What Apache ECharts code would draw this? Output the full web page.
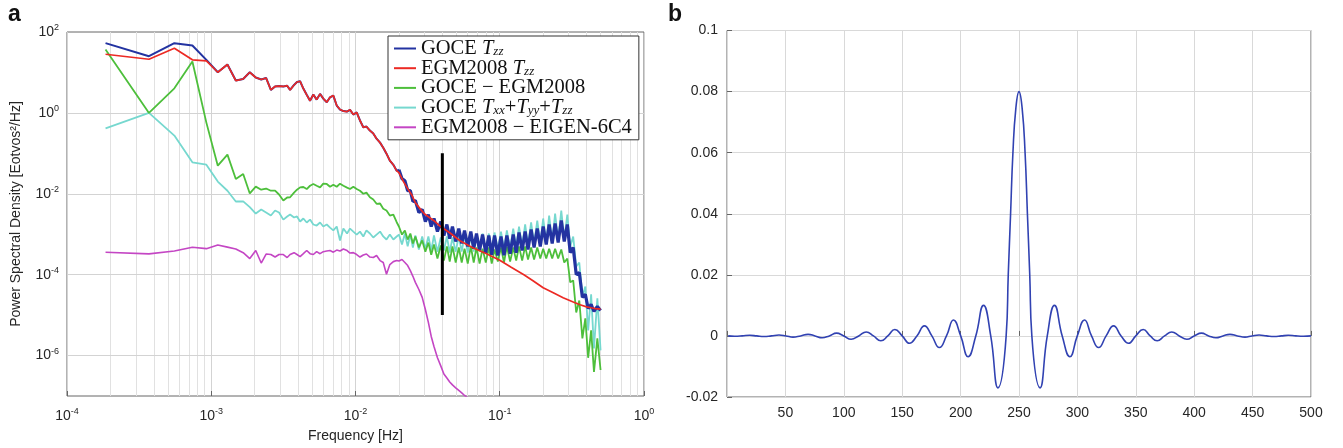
<!DOCTYPE html>
<html>
<head>
<meta charset="utf-8">
<script src="https://cdn.jsdelivr.net/npm/echarts@6.0.0/dist/echarts.min.js"></script>
<style>
html,body{margin:0;padding:0;background:#fff;}
#chart{width:1343px;height:448px;}
</style>
</head>
<body>
<div id="chart"></div>
<script>
// ---------------- Panel a data (frequency in Hz, PSD in Eotvos^2/Hz) ----------------
const fLow = [1.85e-4, 3.7e-4, 5.55e-4, 7.4e-4, 9.25e-4, 1.11e-3, 1.295e-3, 1.48e-3, 1.665e-3, 1.85e-3, 2.035e-3, 2.22e-3];
const fMid = [2.40e-3, 2.59e-3, 2.77e-3, 2.95e-3, 3.16e-3, 3.36e-3, 3.52e-3, 3.75e-3, 3.93e-3, 4.13e-3,
              4.35e-3, 4.59e-3, 4.84e-3, 5.10e-3, 5.38e-3, 5.68e-3, 5.98e-3, 6.32e-3, 6.66e-3, 7.02e-3,
              7.41e-3, 7.81e-3, 8.24e-3, 8.74e-3, 9.16e-3, 9.66e-3, 1.019e-2, 1.074e-2, 1.133e-2, 1.191e-2,
              1.259e-2, 1.328e-2, 1.40e-2, 1.48e-2, 1.557e-2, 1.64e-2, 1.73e-2, 1.83e-2, 1.93e-2];
const fHigh = [0.020, 0.021, 0.022, 0.023, 0.024, 0.025, 0.026, 0.0275, 0.029, 0.0305,
               0.032, 0.0335, 0.035, 0.037, 0.039, 0.041, 0.043, 0.045, 0.047, 0.0495,
               0.052, 0.0545, 0.057, 0.060, 0.063, 0.066, 0.069, 0.0725, 0.076, 0.080,
               0.084, 0.088, 0.092, 0.097, 0.102, 0.107, 0.112, 0.118, 0.124, 0.130,
               0.136, 0.143, 0.150, 0.157, 0.165, 0.173, 0.182, 0.191, 0.200, 0.210,
               0.220, 0.231, 0.242, 0.254, 0.267, 0.280, 0.294, 0.308, 0.323, 0.339,
               0.356, 0.374, 0.392, 0.410, 0.430, 0.450, 0.475, 0.500];
const fRedHigh = [0.0200, 0.0215, 0.0230, 0.0245, 0.0260, 0.0280, 0.0300, 0.0320, 0.0350, 0.0375,
                  0.0400, 0.0450, 0.0530, 0.0650, 0.0810, 0.100, 0.120, 0.147, 0.170, 0.200,
                  0.235, 0.275, 0.320, 0.360, 0.400, 0.430, 0.460, 0.500];

// GOCE Tzz (blue)
const blueLow = [53, 25.2, 53, 46.3, 20.5];
const blueHigh = [3.95e-2, 2.37e-2, 2.1e-2, 1.19e-2, 1.19e-2, 6.45e-3, 6.8e-3, 3.45e-3, 4.1e-3, 2.06e-3,
                  3.07e-3, 1.55e-3, 2.45e-3, 1.16e-3, 2.06e-3, 9.3e-4, 1.74e-3, 7.8e-4, 1.55e-3, 6.6e-4,
                  1.38e-3, 5.9e-4, 1.23e-3, 5.0e-4, 1.16e-3, 4.4e-4, 1.04e-3, 3.95e-4, 9.8e-4, 3.5e-4,
                  9.3e-4, 3.1e-4, 9.3e-4, 3.0e-4, 8.8e-4, 3.0e-4, 9.3e-4, 3.3e-4, 9.8e-4, 3.5e-4,
                  1.1e-3, 3.95e-4, 1.16e-3, 4.2e-4, 1.3e-3, 4.7e-4, 1.38e-3, 5.0e-4, 1.55e-3, 5.6e-4,
                  1.74e-3, 5.9e-4, 1.84e-3, 6.2e-4, 2.18e-3, 6.6e-4, 1.74e-3, 3.5e-4, 4.7e-4, 1.0e-4,
                  1.13e-4, 2.75e-5, 3.25e-5, 1.46e-5, 1.84e-5, 1.23e-5, 1.64e-5, 1.3e-5];
// EGM2008 Tzz (red)
const redLow = [28.2, 21.2, 39.8, 20.5, 19.4, 10.1, 15.7, 6.3, 6.9, 10.1, 7.5, 6.7];
const redMid = [7.3, 3.7, 4.5, 4.6, 4.5, 4.7, 3.7, 4.9, 5.8, 6.05,
                4.0, 2.8, 2.0, 2.84, 2.13, 2.95, 2.26, 1.83, 2.43, 2.68,
                1.52, 1.21, 1.11, 1.08, 1.19, 0.91, 1.03, 0.65, 0.44, 0.46,
                0.365, 0.31, 0.23, 0.184, 0.138, 0.098, 0.066, 0.052, 0.037];
const redHigh = [0.0333, 0.020, 0.0134, 9.5e-3, 6.0e-3, 4.3e-3, 3.2e-3, 2.7e-3, 2.16e-3, 1.72e-3,
                 1.45e-3, 1.09e-3, 6.9e-4, 4.63e-4, 3.29e-4, 2.27e-4, 1.52e-4, 1.0e-4, 7.1e-5, 4.74e-5,
                 3.56e-5, 2.68e-5, 2.13e-5, 1.80e-5, 1.60e-5, 1.52e-5, 1.45e-5, 1.41e-5];
// GOCE - EGM2008 (green)
const greenLow = [36.9, 1.0, 4.06, 18.6, 0.575, 0.0496, 0.093, 0.0232, 0.0307, 0.0102, 0.015, 0.0126];
const greenMid = [0.0135, 0.0119, 0.0119, 9.6e-3, 6.8e-3, 8.1e-3, 8.2e-3, 0.0107, 0.0126, 0.0144,
                  0.0147, 0.0131, 0.0158, 0.0175, 0.0158, 0.0144, 0.0178, 0.0175, 0.0149, 0.0168,
                  0.0149, 0.0178, 0.0158, 0.0142, 0.0131, 0.0149, 0.0131, 0.0119, 0.0100, 0.0107,
                  8.2e-3, 7.2e-3, 5.65e-3, 5.75e-3, 4.25e-3, 3.86e-3, 2.9e-3, 3.07e-3, 1.98e-3];
const greenHigh = [1.55e-3, 9.8e-4, 1.23e-3, 7.4e-4, 1.04e-3, 5.9e-4, 8.8e-4, 4.7e-4, 7.0e-4, 3.7e-4,
                   6.2e-4, 3.1e-4, 5.6e-4, 2.5e-4, 5.25e-4, 2.23e-4, 5.0e-4, 2.1e-4, 5.0e-4, 2.0e-4,
                   4.7e-4, 2.0e-4, 4.4e-4, 1.88e-4, 5.0e-4, 2.0e-4, 4.7e-4, 1.88e-4, 4.4e-4, 2.0e-4,
                   4.7e-4, 1.88e-4, 4.2e-4, 2.1e-4, 4.7e-4, 2.0e-4, 5.0e-4, 2.1e-4, 4.7e-4, 2.23e-4,
                   5.0e-4, 2.23e-4, 5.0e-4, 2.37e-4, 4.7e-4, 2.37e-4, 4.7e-4, 2.5e-4, 4.4e-4, 2.5e-4,
                   4.4e-4, 2.5e-4, 4.4e-4, 2.5e-4, 4.2e-4, 2.0e-4, 2.5e-4, 6.45e-5, 7.2e-5, 1.16e-5,
                   2.3e-5, 2.65e-6, 8.3e-6, 8.8e-7, 4.2e-6, 3.95e-7, 2.65e-6, 4.4e-7];
// GOCE Txx+Tyy+Tzz (cyan)
const cyanLow = [0.416, 1.0, 0.275, 0.0599, 0.0525, 0.020, 0.0119, 6.45e-3, 6.5e-3, 4.66e-3, 3.25e-3, 4.1e-3];
const cyanMid = [3.45e-3, 2.9e-3, 3.86e-3, 3.45e-3, 2.3e-3, 2.75e-3, 3.07e-3, 2.59e-3, 2.75e-3, 2.06e-3,
                 2.45e-3, 1.95e-3, 2.3e-3, 1.74e-3, 1.64e-3, 1.95e-3, 1.55e-3, 1.74e-3, 1.46e-3, 1.24e-3,
                 1.55e-3, 7.0e-4, 1.38e-3, 1.04e-3, 1.38e-3, 1.16e-3, 9.8e-4, 1.16e-3, 8.8e-4, 1.24e-3,
                 1.04e-3, 8.3e-4, 9.8e-4, 1.16e-3, 8.8e-4, 7.4e-4, 9.8e-4, 7.4e-4, 8.8e-4];
const cyanHigh = [9.8e-4, 5.6e-4, 1.04e-3, 5.0e-4, 9.8e-4, 4.7e-4, 9.3e-4, 4.2e-4, 8.8e-4, 4.4e-4,
                  8.8e-4, 3.95e-4, 9.3e-4, 3.7e-4, 8.3e-4, 3.95e-4, 8.8e-4, 3.5e-4, 8.3e-4, 3.7e-4,
                  8.8e-4, 3.7e-4, 9.3e-4, 3.5e-4, 9.3e-4, 3.7e-4, 9.8e-4, 3.7e-4, 1.04e-3, 3.95e-4,
                  1.04e-3, 3.95e-4, 1.1e-3, 4.2e-4, 1.16e-3, 4.2e-4, 1.24e-3, 4.4e-4, 1.38e-3, 4.7e-4,
                  1.55e-3, 5.0e-4, 1.74e-3, 5.25e-4, 1.95e-3, 5.6e-4, 2.18e-3, 5.9e-4, 2.45e-3, 6.2e-4,
                  2.9e-3, 6.6e-4, 3.25e-3, 7.0e-4, 3.86e-3, 7.8e-4, 3.07e-3, 5.0e-4, 8.8e-4, 1.59e-4,
                  2.0e-4, 2.9e-5, 5.1e-5, 4.2e-6, 3.25e-5, 1.5e-6, 2.6e-5, 1.34e-6];
// EGM2008 - EIGEN-6C4 (magenta)
const magLow = [3.58e-4, 3.27e-4, 3.84e-4, 4.77e-4, 4.4e-4, 5.4e-4, 4.8e-4, 4.3e-4, 3.5e-4, 2.5e-4, 3.95e-4, 1.94e-4];
const magMid = [3.24e-4, 3.15e-4, 2.73e-4, 3.15e-4, 3.15e-4, 2.65e-4, 3.15e-4, 3.5e-4, 3.15e-4, 2.8e-4,
                3.3e-4, 3.95e-4, 3.3e-4, 3.15e-4, 3.7e-4, 3.3e-4, 3.7e-4, 3.84e-4, 3.95e-4, 3.6e-4,
                4.06e-4, 3.84e-4, 4.3e-4, 3.95e-4, 3.43e-4, 3.5e-4, 3.15e-4, 2.73e-4, 3.06e-4, 3.24e-4,
                2.73e-4, 2.65e-4, 2.97e-4, 2.23e-4, 2.0e-4, 1.02e-4, 1.78e-4, 2.1e-4, 2.23e-4];
const magHigh = [2.17e-4, 2.37e-4, 2.0e-4, 1.68e-4, 1.26e-4, 9.1e-5, 6.45e-5, 4.3e-5, 2.75e-5, 1.38e-5,
                 6.6e-6, 2.97e-6, 1.68e-6, 8.8e-7, 5.55e-7, 3.5e-7, 2.8e-7, 2.23e-7, 1.88e-7, 1.59e-7,
                 1.37e-7, 1.19e-7, 1.03e-7, 9.0e-8];
// vertical marker at 0.04 Hz
const markF = [0.04, 0.04];
const markV = [1e-5, 0.1];

// ---------------- Panel b data (filter kernel) ----------------
const bX = [1, 6.5, 13, 19.5, 25.5, 31.5, 38, 44.5, 50.5, 56.5,
            63, 69.4, 75.4, 81.4, 87.6, 93.8, 100, 106.3, 112.8, 119.2,
            125.4, 131.7, 137.7, 143.7, 150, 156.2, 162.6, 169, 175.4, 181.8,
            187.9, 193.9, 200.1, 206.4, 213, 219.6, 225.8, 232, 239, 240.8,
            242.8, 244.8, 247.3, 250, 252.7, 255.2, 257.2, 259.2, 261, 268,
            274.2, 280.4, 287, 293.6, 299.9, 306.1, 312.1, 318.2, 324.6, 331,
            337.4, 343.8, 350, 356.3, 362.3, 368.3, 374.6, 380.8, 387.2, 393.7,
            400, 406.2, 412.4, 418.6, 424.6, 430.6, 437, 443.5, 449.5, 455.5,
            462, 468.5, 474.5, 480.5, 487, 493.5, 500];
const bY = [0, -0.0001, 0, 0.0002, 0, -0.0002, 0, 0.0003, 0, -0.0004,
            0, 0.0005, 0, -0.0006, 0, 0.0009, 0, -0.0011, 0, 0.0013,
            0, -0.0016, 0, 0.0021, 0, -0.0024, 0, 0.0033, 0, -0.0038,
            0, 0.0052, 0, -0.0068, 0, 0.010, 0, -0.017, 0, 0.020,
            0.040, 0.060, 0.0745, 0.080, 0.0745, 0.060, 0.040, 0.020, 0, -0.017,
            0, 0.010, 0, -0.0068, 0, 0.0052, 0, -0.0038, 0, 0.0033,
            0, -0.0024, 0, 0.0021, 0, -0.0016, 0, 0.0013, 0, -0.0011,
            0, 0.0009, 0, -0.0006, 0, 0.0005, 0, -0.0004, 0, 0.0003,
            0, -0.0002, 0, 0.0002, 0, -0.0001, 0];

const xTicksB = [50, 100, 150, 200, 250, 300, 350, 400, 450, 500];

// ---------------- build ----------------
const zip = (fs, vs) => vs.map((v, i) => [fs[i], v]);
const blueDataLow = zip(fLow, blueLow).concat(zip(fLow.slice(5), redLow.slice(5)), zip(fMid, redMid), zip(fHigh.slice(0, 1), blueHigh.slice(0, 1)));
const blueDataHigh = zip(fHigh, blueHigh);
const redData = zip(fLow, redLow).concat(zip(fMid, redMid), zip(fRedHigh, redHigh));
const greenData = zip(fLow, greenLow).concat(zip(fMid, greenMid), zip(fHigh, greenHigh));
const cyanData = zip(fLow, cyanLow).concat(zip(fMid, cyanMid), zip(fHigh, cyanHigh));
const magData = zip(fLow, magLow).concat(zip(fMid, magMid), zip(fHigh, magHigh));
const markData = zip(markF, markV);
const bData = zip(bX, bY);

// grid decorations (minor log grid on x, even-decade grid on y)
const gridMarks = [];
for (let e = -4; e < 0; e++) {
  for (let m = 2; m <= 9; m++) gridMarks.push({ xAxis: m * Math.pow(10, e) });
}
[1e-6, 1e-4, 1e-2, 1].forEach(v => gridMarks.push({ yAxis: v, lineStyle: { color: '#d3d3d3' } }));

const TXT = '#262626';
const SANS = 'Liberation Sans, Arial, sans-serif';
const SERIF = 'Liberation Serif, Times New Roman, serif';
const powRich = {
  b: { fontSize: 14, fontFamily: SANS, color: TXT, lineHeight: 18 },
  s: { fontSize: 9, fontFamily: SANS, color: TXT, lineHeight: 6, verticalAlign: 'top' }
};
const powFmt = v => '{b|10}{s|' + Math.round(Math.log10(v)) + '}';

const legendNames = ['GOCE Tzz', 'EGM2008 Tzz', 'GOCE − EGM2008', 'GOCE Txx+Tyy+Tzz', 'EGM2008 − EIGEN-6C4'];
const legendRich = {
  'GOCE Tzz': 'GOCE {i|T}{u|zz}',
  'EGM2008 Tzz': 'EGM2008 {i|T}{u|zz}',
  'GOCE − EGM2008': 'GOCE − EGM2008',
  'GOCE Txx+Tyy+Tzz': 'GOCE {i|T}{u|xx}+{i|T}{u|yy}+{i|T}{u|zz}',
  'EGM2008 − EIGEN-6C4': 'EGM2008 − EIGEN-6C4'
};

const lineBase = (name, color, data, z, width) => ({
  type: 'line', name, data, z, color,
  xAxisIndex: 0, yAxisIndex: 0,
  showSymbol: false, symbol: 'none', smooth: false, silent: true,
  lineStyle: { color, width: width || 1.6 },
  emphasis: { disabled: true }, animation: false
});

const option = {
  animation: false,
  textStyle: { fontFamily: SANS },
  graphic: [
    { type: 'text', left: 8, top: 3, style: { text: 'a', font: 'bold 23px ' + SANS, fill: '#111' } },
    { type: 'text', left: 668, top: 3, style: { text: 'b', font: 'bold 23px ' + SANS, fill: '#111' } }
  ],
  grid: [
    { left: 67, top: 32, width: 577, height: 364, show: true, borderColor: '#666', borderWidth: 1 },
    { left: 727, top: 30.5, width: 584, height: 366.5, show: true, borderColor: '#666', borderWidth: 1 }
  ],
  legend: {
    show: true, z: 30, left: 388, top: 36, orient: 'vertical', selectedMode: false,
    itemGap: -1.3, itemWidth: 22, itemHeight: 2, icon: 'rect',
    backgroundColor: '#fff', borderColor: '#333', borderWidth: 1, borderRadius: 0,
    padding: [2, 7, 2, 6],
    data: legendNames,
    formatter: n => legendRich[n],
    textStyle: {
      fontFamily: SERIF, fontSize: 20.5, lineHeight: 19.7, color: '#111',
      rich: {
        i: { fontFamily: SERIF, fontSize: 20.5, lineHeight: 19.7, fontStyle: 'italic', color: '#111' },
        u: { fontFamily: SERIF, fontSize: 13, lineHeight: 10, fontStyle: 'italic', verticalAlign: 'bottom', color: '#111' }
      }
    }
  },
  xAxis: [
    {
      gridIndex: 0, type: 'log', logBase: 10, min: 1e-4, max: 1,
      name: 'Frequency [Hz]', nameLocation: 'middle', nameGap: 33,
      nameTextStyle: { fontSize: 14, color: TXT, fontFamily: SANS },
      axisLine: { show: false },
      axisTick: { show: true, inside: true, length: 5, lineStyle: { color: '#666' } },
      axisLabel: { margin: 11, formatter: powFmt, rich: powRich },
      splitLine: { show: true, lineStyle: { color: '#d3d3d3', width: 1 } },
      minorTick: { show: false }, minorSplitLine: { show: false }
    },
    {
      gridIndex: 1, type: 'value', min: 0, max: 500, interval: 50,
      axisLine: { show: false },
      axisTick: { show: true, inside: true, length: 5, lineStyle: { color: '#666' } },
      axisLabel: { margin: 9, fontSize: 14, color: TXT, fontFamily: SANS,
                   formatter: v => (xTicksB.indexOf(v) >= 0 ? String(v) : '') },
      splitLine: { show: true, lineStyle: { color: '#d9d9d9', width: 1 } }
    }
  ],
  yAxis: [
    {
      gridIndex: 0, type: 'log', logBase: 10, min: 1e-7, max: 100,
      name: 'Power Spectral Density [Eotvos²/Hz]', nameLocation: 'middle', nameGap: 44, nameRotate: 90,
      nameTextStyle: { fontSize: 14, color: TXT, fontFamily: SANS },
      axisLine: { show: false },
      axisTick: { show: false },
      axisLabel: { margin: 8, rich: powRich,
                   formatter: v => { const e = Math.round(Math.log10(v)); return (e % 2 === 0) ? powFmt(v) : ''; } },
      splitLine: { show: false }
    },
    {
      gridIndex: 1, type: 'value', min: -0.02, max: 0.1, interval: 0.02,
      axisLine: { show: false },
      axisTick: { show: true, inside: true, length: 5, lineStyle: { color: '#666' } },
      axisLabel: { margin: 9, fontSize: 14, color: TXT, fontFamily: SANS },
      splitLine: { show: true, lineStyle: { color: '#d9d9d9', width: 1 } }
    }
  ],
  series: [
    {
      type: 'line', name: '_grid', xAxisIndex: 0, yAxisIndex: 0, z: 1,
      data: [[1e-3, 1e-3]], showSymbol: false, symbol: 'none', silent: true,
      lineStyle: { opacity: 0 }, emphasis: { disabled: true },
      markLine: {
        silent: true, symbol: 'none', animation: false, z: 1, precision: 12,
        label: { show: false }, emphasis: { disabled: true },
        lineStyle: { color: '#e1e1e1', width: 1, type: 'solid' },
        data: gridMarks
      }
    },
    lineBase('GOCE Txx+Tyy+Tzz', '#76d8cf', cyanData, 10, 1.8),
    lineBase('GOCE − EGM2008', '#4dbf3b', greenData, 11, 1.8),
    lineBase('GOCE Tzz', '#2333a1', blueDataLow, 12, 2.0),
    lineBase('GOCE Tzz', '#2333a1', blueDataHigh, 12, 3.2),
    lineBase('EGM2008 Tzz', '#ec2a24', redData, 13, 1.7),
    lineBase('EGM2008 − EIGEN-6C4', '#c446c4', magData, 14, 1.6),
    lineBase('_mark', '#000000', markData, 15, 3),
    {
      type: 'line', name: 'kernel', xAxisIndex: 1, yAxisIndex: 1, data: bData,
      showSymbol: false, symbol: 'none', smooth: 0.5, silent: true,
      color: '#3142b2', lineStyle: { color: '#3142b2', width: 1.6 },
      emphasis: { disabled: true }, z: 10
    }
  ]
};

const chart = echarts.init(document.getElementById('chart'), null, { renderer: 'canvas' });
chart.setOption(option);
</script>
</body>
</html>
